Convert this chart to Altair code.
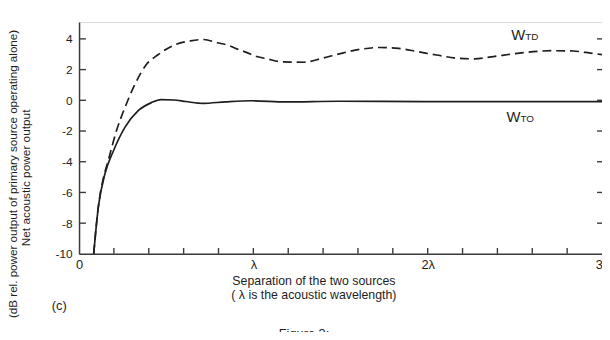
import altair as alt
import pandas as pd

# W_TD (dashed) curve, separation in wavelengths vs dB
td_x = [0.084, 0.111, 0.137, 0.168, 0.215, 0.263, 0.320, 0.385, 0.451, 0.546, 0.639, 0.716,
        0.792, 0.851, 0.905, 0.960, 1.020, 1.079, 1.168, 1.287, 1.396, 1.505, 1.624, 1.724,
        1.833, 1.942, 2.051, 2.170, 2.269, 2.378, 2.487, 2.606, 2.715, 2.834, 2.943, 3.0]
td_y = [-10, -6.9, -5.2, -3.9, -1.97, -0.48, 1.03, 2.31, 2.95, 3.6, 3.87, 3.96,
        3.75, 3.6, 3.35, 3.12, 2.85, 2.7, 2.5, 2.48, 2.74, 3.06, 3.34, 3.44, 3.38, 3.17,
        2.95, 2.74, 2.7, 2.85, 3.02, 3.17, 3.23, 3.21, 3.06, 2.98]

# W_TO (solid) curve
to_x = [0.084, 0.111, 0.149, 0.197, 0.263, 0.338, 0.415, 0.470, 0.544, 0.613, 0.712, 0.841,
        0.990, 1.188, 1.486, 1.981, 2.477, 3.0]
to_y = [-10, -6.92, -4.77, -3.3, -1.76, -0.69, -0.15, 0.05, 0.02, -0.08, -0.2, -0.1,
        -0.03, -0.1, -0.06, -0.08, -0.08, -0.08]

x_minor_ticks = [0.2, 0.4, 0.6, 0.8, 1.0, 1.2, 1.4, 1.6, 1.8, 2.0, 2.2, 2.4, 2.6, 2.8]
y_tick_vals = [-8, -6, -4, -2, 0, 2, 4]
y_label_vals = [-10, -8, -6, -4, -2, 0, 2, 4]
x_label_vals = [0, 1, 2, 3]
x_label_text = ["0", "λ", "2λ", "3λ"]

label_text = ["W", "TD", "W", "TO"]
label_x = [2.48, 2.559, 2.452, 2.532]
label_y = [3.94, 3.94, -1.38, -1.38]
label_size = [15, 10, 15, 10]

W, H = 530, 235
FONT = "Liberation Sans"
INK = "#1e1e1e"
AX = "#3a3a3a"

xs = alt.Scale(domain=[0, 3.0], nice=False, zero=False)
ys = alt.Scale(domain=[-10, 5.1], nice=False, zero=False)

label_expr = " : ".join(
    f"datum.value == {v} ? '{t}'" for v, t in zip(x_label_vals, x_label_text)
) + " : ''"

df_td = pd.DataFrame({"x": td_x, "y": td_y})
df_to = pd.DataFrame({"x": to_x, "y": to_y})

x_axis = alt.Axis(
    values=x_label_vals, labelExpr=label_expr, ticks=False, grid=False,
    domainColor=AX, domainWidth=1.5, labelFontSize=13, labelColor=INK,
    labelPadding=5, title=None, labelFont=FONT, labelFlush=False)
y_axis = alt.Axis(
    values=y_label_vals, labelExpr="'' + datum.value", ticks=False, grid=False,
    domainColor=AX, domainWidth=1.5, labelFontSize=12, labelColor=INK,
    labelPadding=7, title=None, labelFont=FONT, labelFlush=False)

td = alt.Chart(df_td).mark_line(
    color=INK, strokeWidth=1.7, strokeDash=[9, 5], interpolate="monotone"
).encode(
    x=alt.X("x:Q", scale=xs, axis=x_axis),
    y=alt.Y("y:Q", scale=ys, axis=y_axis),
)

to = alt.Chart(df_to).mark_line(
    color=INK, strokeWidth=1.7, interpolate="monotone"
).encode(
    x=alt.X("x:Q", scale=xs, axis=x_axis),
    y=alt.Y("y:Q", scale=ys, axis=y_axis),
)

xt = alt.Chart(pd.DataFrame({"x": x_minor_ticks})).mark_rule(
    color=AX, strokeWidth=1.4
).encode(
    x=alt.X("x:Q", scale=xs, axis=x_axis),
    y=alt.value(H), y2=alt.value(H - 6),
)

ylt = alt.Chart(pd.DataFrame({"y": y_tick_vals})).mark_rule(
    color=AX, strokeWidth=1.4
).encode(
    y=alt.Y("y:Q", scale=ys, axis=y_axis),
    x=alt.value(0), x2=alt.value(7),
)

yrt = alt.Chart(pd.DataFrame({"y": y_tick_vals})).mark_rule(
    color=AX, strokeWidth=1.4
).encode(
    y=alt.Y("y:Q", scale=ys, axis=y_axis),
    x=alt.value(W - 5), x2=alt.value(W),
)

labels = alt.Chart(pd.DataFrame({
    "t": label_text, "x": label_x, "y": label_y, "s": label_size
})).mark_text(
    align="left", baseline="alphabetic", font=FONT, color=INK
).encode(
    x=alt.X("x:Q", scale=xs, axis=x_axis),
    y=alt.Y("y:Q", scale=ys, axis=y_axis),
    text="t:N",
    size=alt.Size("s:Q", scale=None, legend=None),
)


def note(text, x, y, size=13, angle=0, align="center"):
    return alt.Chart(pd.DataFrame({"t": [text]})).mark_text(
        font=FONT, fontSize=size, color=INK, angle=angle, align=align,
        baseline="middle"
    ).encode(text="t:N", x=alt.value(x), y=alt.value(y))


notes = [
    note("Separation of the two sources", 238, 263, size=12.5),
    note("( λ is the acoustic wavelength)", 238, 276.5, size=12.5),
    note("(c)", -20, 288),
    note("Figure 3:", 228, 316),
    note("Net acoustic power output", -54, 158, size=12, angle=270),
    note("(dB rel. power output of primary source operating alone)", -66.5, 154,
         size=11.8, angle=270),
]

chart = alt.layer(td, to, xt, ylt, yrt, labels, *notes).properties(
    width=W, height=H,
    autosize=alt.AutoSizeParams(type="none"),
    padding={"left": 72, "top": 12, "right": 0, "bottom": 77},
).configure_view(stroke=None).configure(background="white")

chart.save("out.html", embed_options={"renderer": "svg", "actions": False})
